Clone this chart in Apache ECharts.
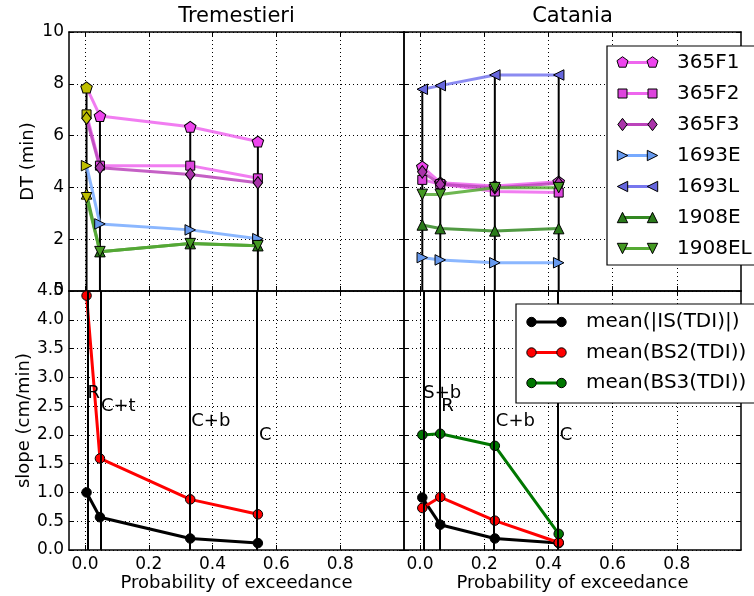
<!DOCTYPE html>
<html><head><meta charset="utf-8">
<script src="https://cdn.jsdelivr.net/npm/echarts@6/dist/echarts.min.js"></script>
<style>html,body{margin:0;padding:0;background:#fff}#c{width:754px;height:596px}</style>
</head><body><div id="c"></div>
<script>
// ---------------- data ----------------
const panelTitles = ['Tremestieri', 'Catania'];
const dtNames = ['365F1','365F2','365F3','1693E','1693L','1908E','1908EL'];
const tremX = [0.005, 0.047, 0.33, 0.542];
const tremDT_365F1  = [7.86, 6.76, 6.34, 5.77];
const tremDT_365F2  = [6.82, 4.84, 4.84, 4.35];
const tremDT_365F3  = [6.67, 4.76, 4.50, 4.18];
const tremDT_1693E  = [4.84, 2.59, 2.36, 2.02];
const tremDT_1693L  = [null, null, null, null];
const tremDT_1908E  = [3.75, 1.52, 1.83, 1.75];
const tremDT_1908EL = [3.60, 1.52, 1.83, 1.75];
const cataX = [0.007, 0.063, 0.233, 0.432];
const cataDT_365F1  = [4.80, 4.18, 4.05, 4.22];
const cataDT_365F2  = [4.29, 4.13, 3.84, 3.80];
const cataDT_365F3  = [4.60, 4.12, 3.99, 4.16];
const cataDT_1693E  = [1.29, 1.20, 1.09, 1.09];
const cataDT_1693L  = [7.79, 7.93, 8.34, 8.34];
const cataDT_1908E  = [2.55, 2.41, 2.32, 2.41];
const cataDT_1908EL = [3.73, 3.73, 3.99, 3.99];
const slopeNames = ['mean(|IS(TDI)|)', 'mean(BS2(TDI))', 'mean(BS3(TDI))'];
const tremIS  = [1.00, 0.57, 0.20, 0.12];
const tremBS2 = [4.42, 1.59, 0.88, 0.62];
const tremBS3 = [null, null, null, null];
const cataIS  = [0.91, 0.44, 0.20, 0.12];
const cataBS2 = [0.73, 0.92, 0.51, 0.13];
const cataBS3 = [2.00, 2.02, 1.81, 0.28];
const tremLabels = ['R', 'C+t', 'C+b', 'C'];
const cataLabels = ['S+b', 'R', 'C+b', 'C'];
const labelY = [2.73, 2.49, 2.24, 1.99];
const xTicks = [0, 0.2, 0.4, 0.6, 0.8];
const dtTicks = [0, 2, 4, 6, 8, 10];
const slopeTicks = [0, 0.5, 1.0, 1.5, 2.0, 2.5, 3.0, 3.5, 4.0, 4.5];

// ---------------- styles ----------------
const FONT = 'DejaVu Sans';
const OLIVE = '#bfbf00';
const dtStyle = {
  '365F1':  {line:'#ee66ee', fill:'#ee44ee', kind:'pentagon'},
  '365F2':  {line:'#ee66ee', fill:'#dd44dd', kind:'square'},
  '365F3':  {line:'#bb44bb', fill:'#aa33aa', kind:'diamond'},
  '1693E':  {line:'#77aaff', fill:'#6699ee', kind:'triRight'},
  '1693L':  {line:'#7777ee', fill:'#6666dd', kind:'triLeft'},
  '1908E':  {line:'#338822', fill:'#2a7a1a', kind:'triUp'},
  '1908EL': {line:'#55aa33', fill:'#449922', kind:'triDown'}
};
const slopeStyle = [
  {line:'#000000', fill:'#000000'},
  {line:'#ff0000', fill:'#ff0000'},
  {line:'#007700', fill:'#007700'}
];
const PENT = 'path://M0,-1L0.951,-0.309L0.588,0.809L-0.588,0.809L-0.951,-0.309Z';
function symOf(kind){
  switch(kind){
    case 'pentagon': return {symbol:PENT, symbolSize:[11.5,11], symbolRotate:0};
    case 'square': return {symbol:'rect', symbolSize:9, symbolRotate:0};
    case 'diamond': return {symbol:'diamond', symbolSize:[9.5,12.5], symbolRotate:0};
    case 'triUp': return {symbol:'triangle', symbolSize:10.5, symbolRotate:0};
    case 'triDown': return {symbol:'triangle', symbolSize:10.5, symbolRotate:180};
    case 'triRight': return {symbol:'triangle', symbolSize:10.5, symbolRotate:-90};
    case 'triLeft': return {symbol:'triangle', symbolSize:10.5, symbolRotate:90};
    case 'circle': return {symbol:'circle', symbolSize:9.5, symbolRotate:0};
  }
}

// ---------------- layout ----------------
const grids = [
  {left:69, top:32, width:335, height:259},
  {left:404, top:32, width:337, height:259},
  {left:69, top:291, width:335, height:259},
  {left:404, top:291, width:337, height:259}
];
const xAxes = [], yAxes = [];
grids.forEach((g, gi) => {
  const bottomRow = gi >= 2;
  const leftCol = gi % 2 === 0;
  const common = {type:'value', gridIndex:gi, min:-0.05, max:1.0};
  xAxes.push(Object.assign({}, common, {
    position:'bottom',
    axisLine:{show:true, onZero:false, lineStyle:{color:'#000', width:1.5}},
    axisTick:{show:true, inside:true, length:5, customValues:xTicks, lineStyle:{color:'#000', width:1}},
    axisLabel:{show:bottomRow, customValues:xTicks, formatter:v=>(+v).toFixed(1), fontSize:17, color:'#000', margin:6, fontFamily:FONT},
    splitLine:{show:true, lineStyle:{color:'#000', type:[1,3], width:1}},
    name: bottomRow ? 'Probability of exceedance' : '',
    nameLocation:'middle', nameGap:24,
    nameTextStyle:{fontSize:18, color:'#000', fontFamily:FONT}
  }));
  xAxes.push(Object.assign({}, common, {
    position:'top',
    axisLine:{show:true, onZero:false, lineStyle:{color:'#000', width:1.5}},
    axisTick:{show:true, inside:true, length:5, customValues:xTicks, lineStyle:{color:'#000', width:1}},
    axisLabel:{show:false, customValues:xTicks},
    splitLine:{show:false}
  }));
  const yc = {type:'value', gridIndex:gi, min:0, max: bottomRow ? 4.5 : 10, interval: bottomRow ? 0.5 : 2};
  yAxes.push(Object.assign({}, yc, {
    position:'left',
    axisLine:{show:true, onZero:false, lineStyle:{color:'#000', width:1.5}},
    axisTick:{show:true, inside:true, length:5, lineStyle:{color:'#000', width:1}},
    axisLabel:{show:leftCol, formatter: v => bottomRow ? (+v).toFixed(1) : String(v), fontSize:17, color:'#000', margin:5, fontFamily:FONT},
    splitLine:{show:true, lineStyle:{color:'#000', type:[1,3], width:1}},
    name: leftCol ? (bottomRow ? 'slope (cm/min)' : 'DT (min)') : '',
    nameLocation:'middle', nameGap:32,
    nameTextStyle:{fontSize:18, color:'#000', fontFamily:FONT}
  }));
  yAxes.push(Object.assign({}, yc, {
    position:'right',
    axisLine:{show:true, onZero:false, lineStyle:{color:'#000', width:1.5}},
    axisTick:{show:true, inside:true, length:5, lineStyle:{color:'#000', width:1}},
    axisLabel:{show:false},
    splitLine:{show:false}
  }));
});
const xIdx = gi => gi*2, yIdx = gi => gi*2;

// ---------------- series ----------------
const series = [];
const tremDT = {'365F1':tremDT_365F1,'365F2':tremDT_365F2,'365F3':tremDT_365F3,'1693E':tremDT_1693E,'1693L':tremDT_1693L,'1908E':tremDT_1908E,'1908EL':tremDT_1908EL};
const cataDT = {'365F1':cataDT_365F1,'365F2':cataDT_365F2,'365F3':cataDT_365F3,'1693E':cataDT_1693E,'1693L':cataDT_1693L,'1908E':cataDT_1908E,'1908EL':cataDT_1908EL};

function vlinesTop(gi, xs, table){
  xs.forEach((x, i) => {
    let m = -Infinity;
    Object.keys(table).forEach(k => { const v = table[k][i]; if (v != null && v > m) m = v; });
    series.push({type:'line', xAxisIndex:xIdx(gi), yAxisIndex:yIdx(gi), data:[[x,0],[x,m]],
      symbol:'none', lineStyle:{color:'#000', width:2}, z:2, silent:true, animation:false});
  });
}
vlinesTop(0, tremX, tremDT);
vlinesTop(1, cataX, cataDT);

function dtSeries(gi, xs, table, firstOlive){
  dtNames.forEach(name => {
    const vals = table[name];
    if (vals.every(v => v == null)) return;
    const st = dtStyle[name];
    const data = xs.map((x, i) => {
      const item = {value:[x, vals[i]]};
      if (firstOlive && i === 0) item.itemStyle = {color:OLIVE};
      return item;
    });
    series.push(Object.assign({type:'line', name, xAxisIndex:xIdx(gi), yAxisIndex:yIdx(gi), data,
      showAllSymbol:true, clip:false,
      lineStyle:{color:st.line, width:3, opacity:0.85},
      itemStyle:{color:st.fill, borderColor:'#000', borderWidth:1},
      z:3, animation:false, silent:true}, symOf(st.kind)));
  });
}
dtSeries(0, tremX, tremDT, true);
dtSeries(1, cataX, cataDT, false);

function slopePanel(gi, xs, arrs, labels){
  arrs.forEach((vals, si) => {
    if (vals.every(v => v == null)) return;
    const st = slopeStyle[si];
    series.push(Object.assign({type:'line', name:slopeNames[si], xAxisIndex:xIdx(gi), yAxisIndex:yIdx(gi),
      data: xs.map((x, i) => [x, vals[i]]), clip:false, showAllSymbol:true,
      lineStyle:{color:st.line, width:3}, itemStyle:{color:st.fill, borderColor:'#000', borderWidth:1},
      z:3, animation:false, silent:true}, symOf('circle')));
  });
  // full-height vertical lines
  series.push({type:'line', xAxisIndex:xIdx(gi), yAxisIndex:yIdx(gi), data:[], symbol:'none', z:2, silent:true,
    markLine:{silent:true, symbol:['none','none'], animation:false, label:{show:false},
      lineStyle:{color:'#000', type:'solid', width:2},
      data: xs.map(x => ({xAxis:x}))}});
  // annotations
  series.push({type:'scatter', xAxisIndex:xIdx(gi), yAxisIndex:yIdx(gi), symbolSize:0, z:4, silent:true, animation:false,
    itemStyle:{color:'#000'},
    data: xs.map((x, i) => [x, labelY[i], labels[i]]),
    label:{show:true, position:'right', distance:1, formatter:p => p.data[2], fontSize:18, color:'#000', opacity:1, textBorderWidth:0, fontFamily:FONT}});
}
slopePanel(2, tremX, [tremIS, tremBS2, tremBS3], tremLabels);
slopePanel(3, cataX, [cataIS, cataBS2, cataBS3], cataLabels);

// ---------------- legends (graphic) ----------------
function markerEl(kind, cx, cy, fill){
  const style = {fill, stroke:'#000', lineWidth:1};
  const poly = pts => ({type:'polygon', shape:{points:pts}, style, z:101});
  switch(kind){
    case 'pentagon': {
      const r = 5.8, pts = [];
      for (let k = 0; k < 5; k++){ const a = -Math.PI/2 + k*2*Math.PI/5; pts.push([cx + r*Math.cos(a), cy + r*Math.sin(a)]); }
      return poly(pts);
    }
    case 'square': return poly([[cx-4.5,cy-4.5],[cx+4.5,cy-4.5],[cx+4.5,cy+4.5],[cx-4.5,cy+4.5]]);
    case 'diamond': return poly([[cx,cy-6.2],[cx+4.7,cy],[cx,cy+6.2],[cx-4.7,cy]]);
    case 'triUp': return poly([[cx,cy-5.2],[cx+5.2,cy+5.2],[cx-5.2,cy+5.2]]);
    case 'triDown': return poly([[cx,cy+5.2],[cx+5.2,cy-5.2],[cx-5.2,cy-5.2]]);
    case 'triRight': return poly([[cx+5.2,cy],[cx-5.2,cy-5.2],[cx-5.2,cy+5.2]]);
    case 'triLeft': return poly([[cx-5.2,cy],[cx+5.2,cy-5.2],[cx+5.2,cy+5.2]]);
    case 'circle': return {type:'circle', shape:{cx, cy, r:4.7}, style, z:101};
  }
}
const graphic = [];
function legend(box, rows, x1, x2, tx, items){
  graphic.push({type:'rect', shape:box, style:{fill:'#fff', stroke:'#000', lineWidth:1.2}, z:100});
  items.forEach((it, i) => {
    const cy = rows[0] + i*rows[1];
    graphic.push({type:'line', shape:{x1, y1:cy, x2, y2:cy}, style:{stroke:it.line, lineWidth:3}, z:100});
    graphic.push(markerEl(it.kind, x1, cy, it.fill));
    graphic.push(markerEl(it.kind, x2, cy, it.fill));
    graphic.push({type:'text', x:tx, y:cy, style:{text:it.name, fontSize:20, fontFamily:FONT, fill:'#000', verticalAlign:'middle', align:'left'}, z:101});
  });
}
legend({x:607, y:46, width:170, height:219}, [62.5, 31], 622.5, 652.5, 677,
  dtNames.map(n => ({name:n, line:dtStyle[n].line, fill:dtStyle[n].fill, kind:dtStyle[n].kind})));
legend({x:516, y:304, width:270, height:99}, [322, 30.5], 531.5, 561.5, 586,
  slopeNames.map((n, i) => ({name:n, line:slopeStyle[i].line, fill:slopeStyle[i].fill, kind:'circle'})));

// ---------------- chart ----------------
const chart = echarts.init(document.getElementById('c'), null, {renderer:'canvas'});
chart.setOption({
  animation:false,
  backgroundColor:'#fff',
  textStyle:{fontFamily:FONT},
  title: [
    {text:panelTitles[0], left:236.5, top:6, textAlign:'center', padding:0, textStyle:{fontSize:21, fontWeight:'normal', color:'#000', fontFamily:FONT}},
    {text:panelTitles[1], left:572.5, top:6, textAlign:'center', padding:0, textStyle:{fontSize:21, fontWeight:'normal', color:'#000', fontFamily:FONT}}
  ],
  grid: grids,
  xAxis: xAxes,
  yAxis: yAxes,
  series,
  graphic
});
</script></body></html>
